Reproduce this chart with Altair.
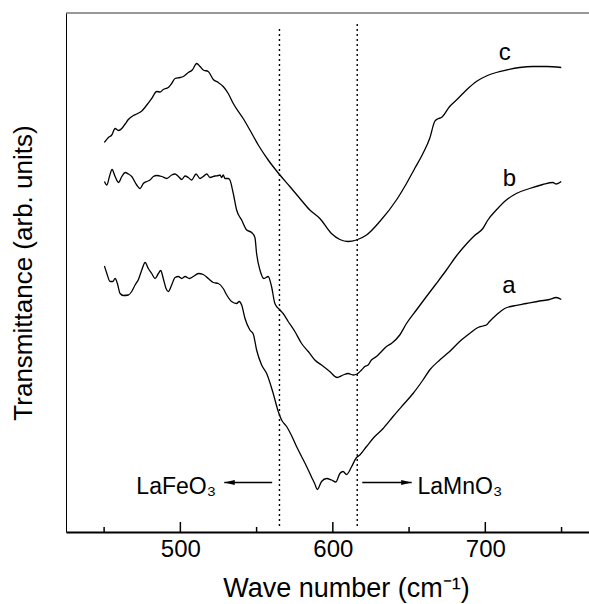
import altair as alt
import pandas as pd

FONT = "Liberation Sans, Arial, sans-serif"

# Infrared transmittance spectra: wavenumber (cm^-1) and transmittance (arb. units)
a_wavenumber = [450.2, 451.8, 453.9, 455.7, 457.2, 458.7, 460.5, 462.6, 465.9, 468.1,
                470.3, 472.5, 474.7, 476.9, 479.0, 481.2, 483.4, 485.6, 487.1, 488.8,
                490.6, 492.1, 494.3, 496.5, 498.7, 500.9, 503.1, 505.9, 508.5, 511.8,
                515.0, 518.3, 521.6, 524.9, 528.1, 530.4, 533.6, 536.9, 538.6, 540.2,
                542.4, 545.6, 547.8, 550.0, 553.3, 556.6, 560.9, 564.2, 566.4, 569.7,
                572.9, 576.2, 579.5, 582.8, 586.0, 588.2, 589.8, 592.6, 595.9, 599.1,
                602.0, 604.6, 606.7, 609.0, 612.2, 615.3, 617.7, 622.1, 627.5, 633.0,
                639.5, 646.0, 652.6, 659.1, 663.5, 670.1, 676.6, 683.2, 689.7, 695.2,
                698.4, 700.7, 702.8, 707.2, 712.7, 718.1, 726.9, 735.6, 742.1, 746.5,
                749.8]
a_transmittance = [53.2, 51.7, 50.1, 50.1, 50.7, 49.7, 47.7, 47.3, 47.4, 48.1,
                   49.4, 50.5, 52.4, 53.9, 52.7, 51.7, 50.7, 51.7, 52.3, 50.7,
                   48.7, 48.1, 49.4, 50.9, 51.1, 50.7, 51.1, 50.7, 51.1, 51.7,
                   51.5, 50.7, 49.9, 49.7, 48.7, 47.4, 46.1, 45.7, 46.1, 45.4,
                   42.7, 40.4, 39.6, 36.4, 33.4, 31.7, 27.7, 24.1, 22.4, 21.1,
                   19.3, 17.1, 15.1, 13.1, 11.0, 9.6, 8.5, 10.1, 10.7, 10.4,
                   10.0, 11.7, 12.1, 11.5, 13.0, 14.8, 15.4, 17.1, 19.1, 20.7,
                   23.1, 25.4, 27.7, 30.4, 32.4, 34.4, 36.1, 38.1, 39.7, 40.9,
                   41.2, 41.4, 42.1, 43.4, 44.7, 45.2, 45.7, 46.2, 46.5, 46.9,
                   46.5]

b_wavenumber = [450.2, 451.8, 453.5, 455.2, 457.2, 459.4, 461.6, 463.8, 465.9, 468.1,
                471.4, 473.6, 475.7, 478.0, 480.1, 482.3, 484.5, 487.8, 491.1, 494.3,
                496.5, 498.7, 500.9, 503.1, 505.2, 507.4, 510.3, 512.9, 515.0, 517.3,
                519.4, 522.7, 524.9, 526.0, 527.1, 528.1, 529.3, 531.4, 532.5, 534.7,
                536.9, 540.2, 543.5, 546.7, 548.9, 550.0, 552.2, 554.8, 557.6, 559.8,
                562.0, 565.3, 567.4, 570.7, 575.1, 579.5, 583.9, 588.2, 592.6, 598.0,
                602.8, 606.7, 610.0, 613.3, 615.9, 618.8, 621.0, 623.1, 625.3, 628.6,
                631.9, 635.2, 638.4, 643.9, 648.3, 654.8, 661.4, 667.9, 674.5, 681.0,
                687.6, 693.0, 698.4, 701.7, 707.2, 713.8, 720.3, 729.0, 737.7, 744.3,
                746.5, 749.8]
b_transmittance = [70.1, 69.4, 71.1, 72.5, 71.1, 69.9, 71.1, 71.9, 71.6, 71.1,
                   69.4, 68.7, 69.7, 70.1, 70.4, 71.1, 71.3, 71.1, 70.7, 71.4,
                   71.6, 71.1, 70.5, 71.2, 70.9, 70.4, 71.6, 70.7, 71.1, 71.6,
                   70.9, 71.2, 71.3, 71.4, 70.9, 71.4, 70.7, 70.7, 70.4, 67.7,
                   64.4, 62.4, 60.4, 59.9, 58.9, 55.7, 52.4, 50.7, 51.1, 49.1,
                   45.7, 44.4, 43.7, 42.1, 40.1, 37.7, 36.1, 34.4, 33.4, 32.1,
                   30.9, 31.4, 31.7, 31.4, 31.6, 32.4, 33.1, 33.4, 34.4, 35.1,
                   36.1, 37.1, 37.7, 39.4, 41.7, 44.4, 47.1, 49.7, 52.4, 55.2,
                   57.6, 59.3, 60.7, 62.4, 64.4, 66.4, 67.7, 68.7, 69.5, 69.9,
                   69.6, 70.1]

c_wavenumber = [450.2, 452.8, 455.0, 457.2, 459.4, 461.6, 463.8, 465.9, 469.2, 471.4,
                474.7, 478.0, 481.2, 484.5, 486.7, 488.8, 492.1, 494.3, 496.5, 499.8,
                501.9, 505.2, 507.8, 510.7, 512.9, 515.0, 518.3, 521.6, 524.9, 528.1,
                531.4, 534.7, 541.2, 545.6, 551.1, 557.6, 565.3, 571.8, 578.4, 584.9,
                591.5, 599.1, 604.6, 610.0, 615.5, 622.1, 630.8, 641.7, 648.3, 653.7,
                659.1, 663.5, 666.8, 668.6, 671.2, 676.6, 682.1, 687.6, 694.1, 700.7,
                707.2, 713.8, 722.5, 731.2, 740.0, 749.8]
c_transmittance = [77.9, 78.9, 79.4, 80.7, 80.3, 80.7, 81.6, 82.5, 83.3, 83.6,
                   84.2, 85.4, 86.7, 88.1, 88.0, 88.5, 88.9, 89.7, 90.7, 90.9,
                   91.1, 91.9, 92.4, 93.7, 93.1, 92.4, 92.1, 90.5, 89.9, 89.1,
                   87.7, 85.7, 82.7, 80.4, 77.4, 74.4, 71.4, 69.1, 66.7, 64.4,
                   62.7, 59.7, 58.5, 58.1, 58.4, 59.4, 62.1, 66.4, 69.7, 72.7,
                   75.7, 78.7, 82.1, 82.6, 82.9, 85.1, 86.7, 88.4, 90.1, 91.2,
                   91.9, 92.4, 92.9, 93.1, 93.1, 92.9]

# Curve letters placed at the right-hand end of each spectrum
sample_names = ["a", "b", "c"]
sample_label_wavenumber = [715.5, 715.8, 712.7]
sample_label_transmittance = [47.9, 69.3, 94.4]

# Band positions of the end members (dotted guides)
band_names = ["LaFeO₃", "LaMnO₃"]
band_wavenumber = [565, 616]
band_top = [100.6, 101.6]
band_bottom = [1.2, 1.2]

# Arrows pointing away from the guides, with their compound names
arrow_start = [560.2, 619.3]
arrow_end = [528.8, 651.7]
arrow_level = [9.9, 9.9]
name_wavenumber = [523.4, 655.5]
name_level = [7.7, 7.7]

major_ticks = [500, 600, 700]
minor_ticks = [450, 550, 650, 750]

W, H = 523, 519
x_scale = alt.Scale(domain=[425, 768], nice=False, zero=False)
y_scale = alt.Scale(domain=[0, 103.8], nice=False, zero=False)

frames = []
for name, wn, tr in [("a", a_wavenumber, a_transmittance),
                     ("b", b_wavenumber, b_transmittance),
                     ("c", c_wavenumber, c_transmittance)]:
    frames.append(pd.DataFrame({"wavenumber": wn, "transmittance": tr, "sample": name}))
spectra_df = pd.concat(frames, ignore_index=True)

spectra = alt.Chart(spectra_df).mark_line(
    color="black", strokeWidth=1.3, interpolate="monotone"
).encode(
    x=alt.X("wavenumber:Q", scale=x_scale,
            axis=alt.Axis(values=major_ticks, format="d", ticks=False, grid=False,
                          domainColor="black", domainWidth=2,
                          labelFont=FONT, labelFontSize=24, labelColor="black",
                          labelPadding=5, labelFlush=False,
                          title="Wave number (cm⁻¹)", titleFont=FONT,
                          titleFontSize=27, titleFontWeight="normal",
                          titleColor="black", titleX=280, titleY=64,
                          titleBaseline="alphabetic", titleAlign="center")),
    y=alt.Y("transmittance:Q", scale=y_scale,
            axis=alt.Axis(labels=False, ticks=False, grid=False,
                          domainColor="black", domainWidth=1,
                          title="Transmittance (arb. units)", titleFont=FONT,
                          titleFontSize=26, titleFontWeight="normal",
                          titleColor="black", titleX=-35, titleY=259.5,
                          titleAngle=270, titleBaseline="alphabetic",
                          titleAlign="center")),
    detail="sample:N",
)

sample_labels = alt.Chart(pd.DataFrame({
    "wavenumber": sample_label_wavenumber,
    "transmittance": sample_label_transmittance,
    "name": sample_names,
})).mark_text(font=FONT, fontSize=24, color="black", align="center",
              baseline="alphabetic").encode(
    x=alt.X("wavenumber:Q", scale=x_scale),
    y=alt.Y("transmittance:Q", scale=y_scale),
    text="name:N",
)

guides = alt.Chart(pd.DataFrame({
    "wavenumber": band_wavenumber,
    "transmittance": band_bottom,
    "top": band_top,
})).mark_rule(color="black", strokeWidth=1.4, strokeDash=[2, 3]).encode(
    x=alt.X("wavenumber:Q", scale=x_scale),
    y=alt.Y("transmittance:Q", scale=y_scale),
    y2="top:Q",
)

arrow_df = pd.DataFrame({
    "wavenumber": arrow_start,
    "end": arrow_end,
    "transmittance": arrow_level,
})
arrow_lines = alt.Chart(arrow_df).mark_rule(color="black", strokeWidth=1.3).encode(
    x=alt.X("wavenumber:Q", scale=x_scale),
    x2="end:Q",
    y=alt.Y("transmittance:Q", scale=y_scale),
)

head_df = pd.DataFrame({
    "wavenumber": arrow_end,
    "transmittance": arrow_level,
    "direction": ["left", "right"],
})
arrow_heads = alt.Chart(head_df).mark_point(
    filled=True, color="black", opacity=1, size=110, strokeWidth=0
).encode(
    x=alt.X("wavenumber:Q", scale=x_scale),
    y=alt.Y("transmittance:Q", scale=y_scale),
    shape=alt.Shape("direction:N", legend=None,
                    scale=alt.Scale(domain=["left", "right"],
                                    range=["M0,0L2,-0.5L2,0.5Z",
                                           "M0,0L-2,-0.5L-2,0.5Z"])),
)

names_df = pd.DataFrame({
    "wavenumber": name_wavenumber,
    "transmittance": name_level,
    "name": band_names,
    "side": ["right", "left"],
})
name_left = alt.Chart(names_df[names_df.side == "right"]).mark_text(
    font=FONT, fontSize=23, color="black", align="right", baseline="alphabetic"
).encode(
    x=alt.X("wavenumber:Q", scale=x_scale),
    y=alt.Y("transmittance:Q", scale=y_scale),
    text="name:N",
)
name_right = alt.Chart(names_df[names_df.side == "left"]).mark_text(
    font=FONT, fontSize=23, color="black", align="left", baseline="alphabetic"
).encode(
    x=alt.X("wavenumber:Q", scale=x_scale),
    y=alt.Y("transmittance:Q", scale=y_scale),
    text="name:N",
)

# Inward-pointing ticks on the wavenumber axis
major = alt.Chart(pd.DataFrame({"wavenumber": major_ticks})).mark_rule(
    color="black", strokeWidth=1.5
).encode(
    x=alt.X("wavenumber:Q", scale=x_scale),
    y=alt.value(H), y2=alt.value(H - 10),
)
minor = alt.Chart(pd.DataFrame({"wavenumber": minor_ticks})).mark_rule(
    color="black", strokeWidth=1.5
).encode(
    x=alt.X("wavenumber:Q", scale=x_scale),
    y=alt.value(H), y2=alt.value(H - 5),
)

# Upper frame edge
top_edge = alt.Chart(pd.DataFrame({"edge": [0]})).mark_rule(
    color="#333333", strokeWidth=1
).encode(x=alt.value(0), x2=alt.value(W), y=alt.value(0))

chart = alt.layer(
    spectra, guides, arrow_lines, arrow_heads, name_left, name_right,
    sample_labels, major, minor, top_edge
).properties(
    width=W, height=H,
    padding={"left": 66, "top": 13, "right": 0, "bottom": 72},
    autosize=alt.AutoSizeParams(type="none"),
    background="white",
).configure_view(stroke=None)

chart.save("out.html", embed_options={"renderer": "svg", "actions": False})
